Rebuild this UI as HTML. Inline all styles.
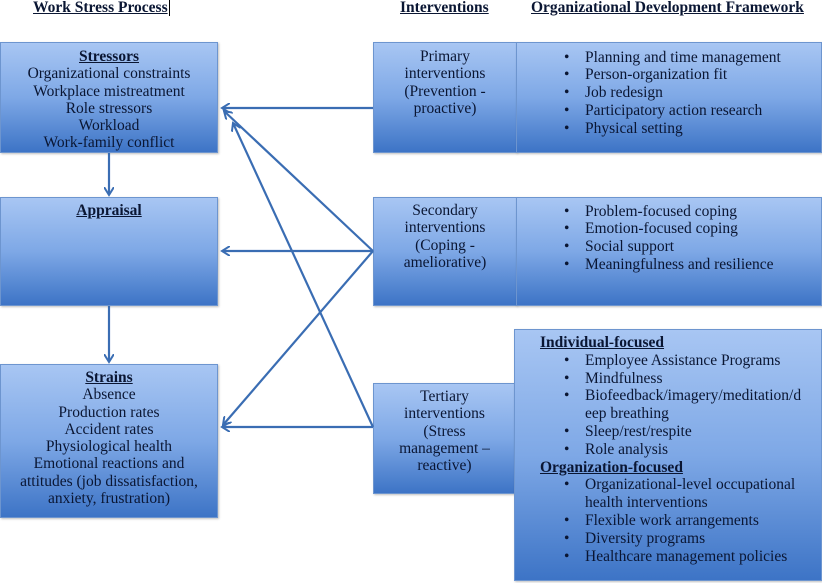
<!DOCTYPE html>
<html><head><meta charset="utf-8"><style>
body{margin:0;width:822px;height:583px;background:#fff;position:relative;overflow:hidden;font-family:"Liberation Serif",serif;color:#0a1633;}
.b{position:absolute;background:linear-gradient(#a8c6f3 0%,#7ea8e6 50%,#3d74c6 100%);border:1px solid #6d95cf;box-sizing:border-box;box-shadow:1px 1px 2px rgba(0,0,0,.25);}
.t{position:absolute;font-size:15.5px;line-height:17.3px;white-space:nowrap;}
.c{text-align:center;}
.h{position:absolute;font-size:15.5px;font-weight:bold;text-decoration:underline;top:-1px;}
u,b{font-weight:bold}
.li{position:relative;padding-left:69px;}
.li:before{content:"•";position:absolute;left:48px;}
.nb{padding-left:69px;}
</style></head><body>
<div class="h" style="left:33px;">Work Stress Process</div>
<div style="position:absolute;left:169px;top:0;width:1px;height:16px;background:#000"></div>
<div class="h" style="left:400px;">Interventions</div>
<div class="h" style="left:531px;">Organizational Development Framework</div>

<div class="b" style="left:0;top:42px;width:218px;height:111px"></div>
<div class="b" style="left:0;top:197px;width:218px;height:109px"></div>
<div class="b" style="left:0;top:364px;width:218px;height:154px"></div>
<div class="b" style="left:373px;top:42px;width:144px;height:111px"></div>
<div class="b" style="left:516px;top:42px;width:306px;height:111px"></div>
<div class="b" style="left:373px;top:197px;width:144px;height:109px"></div>
<div class="b" style="left:516px;top:197px;width:306px;height:109px"></div>
<div class="b" style="left:373px;top:383px;width:143px;height:111px"></div>
<div class="b" style="left:514px;top:329px;width:308px;height:252px"></div>

<div class="t c" style="left:0;width:218px;top:48px"><b><u>Stressors</u></b><br>Organizational constraints<br>Workplace mistreatment<br>Role stressors<br>Workload<br>Work-family conflict</div>
<div class="t c" style="left:0;width:218px;top:202px"><b><u>Appraisal</u></b></div>
<div class="t c" style="left:0;width:218px;top:369px"><b><u>Strains</u></b><br>Absence<br>Production rates<br>Accident rates<br>Physiological health<br>Emotional reactions and<br>attitudes (job dissatisfaction,<br>anxiety, frustration)</div>

<div class="t c" style="left:373px;width:144px;top:48px">Primary<br>interventions<br>(Prevention -<br>proactive)</div>
<div class="t c" style="left:373px;width:144px;top:202px">Secondary<br>interventions<br>(Coping -<br>ameliorative)</div>
<div class="t c" style="left:373px;width:143px;top:388px">Tertiary<br>interventions<br>(Stress<br>management –<br>reactive)</div>

<div class="t" style="left:516px;top:48.5px;line-height:17.8px"><div class="li">Planning and time management</div><div class="li">Person-organization fit</div><div class="li">Job redesign</div><div class="li">Participatory action research</div><div class="li">Physical setting</div></div>
<div class="t" style="left:516px;top:202.5px;line-height:17.8px"><div class="li">Problem-focused coping</div><div class="li">Emotion-focused coping</div><div class="li">Social support</div><div class="li">Meaningfulness and resilience</div></div>
<div class="t" style="left:516px;top:334px;line-height:17.8px">
<div style="padding-left:24px"><b><u>Individual-focused</u></b></div>
<div class="li">Employee Assistance Programs</div><div class="li">Mindfulness</div><div class="li">Biofeedback/imagery/meditation/d</div><div class="nb">eep breathing</div><div class="li">Sleep/rest/respite</div><div class="li">Role analysis</div>
<div style="padding-left:24px"><b><u>Organization-focused</u></b></div>
<div class="li">Organizational-level occupational</div><div class="nb">health interventions</div><div class="li">Flexible work arrangements</div><div class="li">Diversity programs</div><div class="li">Healthcare management policies</div>
</div>

<svg width="822" height="583" style="position:absolute;left:0;top:0" fill="none" stroke="#3a6db3" stroke-width="2.2">
<defs><marker id="a" markerWidth="10" markerHeight="10" refX="8" refY="5" orient="auto" markerUnits="userSpaceOnUse"><path d="M0,0 L8,5 L0,10" stroke="#3a6db3" stroke-width="2" fill="none"/></marker></defs>
<line x1="109" y1="153" x2="109" y2="195" marker-end="url(#a)"/>
<line x1="109" y1="306" x2="109" y2="362" marker-end="url(#a)"/>
<line x1="373" y1="108" x2="222" y2="108" marker-end="url(#a)"/>
<line x1="373" y1="251" x2="222" y2="251" marker-end="url(#a)"/>
<line x1="373" y1="427" x2="222" y2="427" marker-end="url(#a)"/>
<line x1="373" y1="251" x2="224" y2="111" marker-end="url(#a)"/>
<line x1="373" y1="251" x2="223" y2="425" marker-end="url(#a)"/>
<line x1="373" y1="427" x2="233" y2="123" marker-end="url(#a)"/>
</svg>
</body></html>
